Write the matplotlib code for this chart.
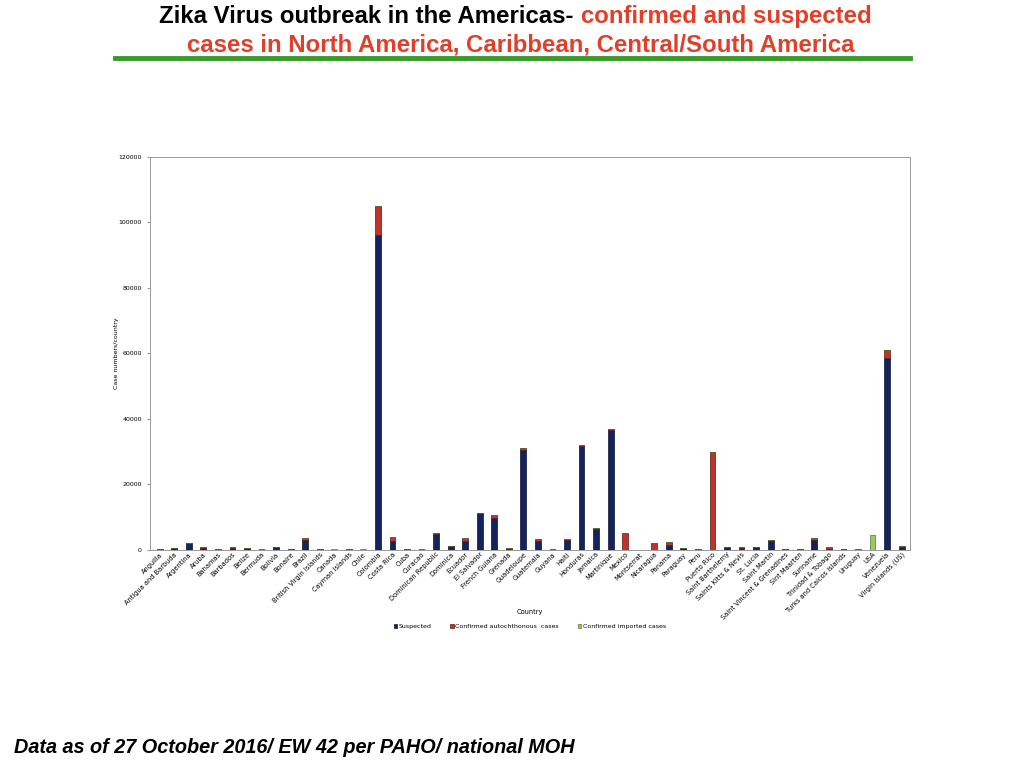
import numpy as np
import matplotlib.pyplot as plt
from matplotlib.lines import Line2D

countries = ['Anguilla', 'Antigua and Barbuda', 'Argentina', 'Aruba', 'Bahamas', 'Barbados',
             'Belize', 'Bermuda', 'Bolivia', 'Bonaire', 'Brazil', 'British Virgin Islands',
             'Canada', 'Cayman Islands', 'Chile', 'Colombia', 'Costa Rica', 'Cuba', 'Curacao',
             'Dominican Republic', 'Dominica', 'Ecuador', 'El Salvador', 'French Guiana',
             'Grenada', 'Guadeloupe', 'Guatemala', 'Guyana', 'Haiti', 'Honduras', 'Jamaica',
             'Martinique', 'Mexico', 'Montserrat', 'Nicaragua', 'Panama', 'Paraguay', 'Peru',
             'Puerto Rico', 'Saint Barthelemy', 'Saints Kitts & Nevis', 'St. Lucia',
             'Saint Martin', 'Saint Vincent & Grenadines', 'Sint Maarten', 'Suriname',
             'Trinidad & Tobago', 'Turks and Caicos Islands', 'Uruguay', 'USA', 'Venezuela',
             'Virgin Islands (US)']
suspected = [300, 600, 2000, 700, 200, 700, 600, 100, 800, 200, 3000, 300, 0, 300, 0,
             96000, 2800, 200, 100, 4800, 1200, 2800, 11200, 9600, 400, 30500, 2800, 100,
             3000, 31800, 6400, 36600, 0, 0, 0, 1500, 600, 300, 0, 900, 700, 900, 2700, 300,
             200, 3000, 300, 300, 100, 0, 58500, 800]
confirmed = [50, 100, 100, 100, 50, 100, 100, 50, 150, 50, 500, 50, 0, 100, 0,
             8800, 1200, 100, 300, 300, 100, 800, 200, 1000, 200, 500, 400, 50,
             200, 200, 200, 200, 5300, 0, 2000, 800, 100, 100, 30000, 100, 100, 100, 200, 50,
             50, 600, 600, 50, 50, 0, 2500, 500]
imported = [0] * len(countries)
imported[countries.index('Canada')] = 400
imported[countries.index('Chile')] = 200
imported[countries.index('USA')] = 4500

fig = plt.figure(figsize=(10.24, 7.68), dpi=100)
ax = fig.add_axes([0.146, 0.284, 0.743, 0.512])

x = np.arange(len(countries))
s = np.array(suspected)
c = np.array(confirmed)
w = 0.4
ax.bar(x, s, w, color='#14235c', edgecolor='#0a1233', linewidth=0.5, label='Suspected')
ax.bar(x, c, w, bottom=s, color='#c0332a', edgecolor='#5a1a14', linewidth=0.5,
       label='Confirmed autochthonous  cases')
ax.bar(x, imported, w, bottom=s + c, color='#9cc86a', edgecolor='#4d7a2a', linewidth=0.5,
       label='Confirmed imported cases')

ax.set_xlim(-0.7, len(countries) - 0.4)
ax.set_ylim(0, 120000)
ax.set_yticks(range(0, 120001, 20000))
ax.tick_params(axis='y', labelsize=4.5, length=2, color='#999999')
ax.tick_params(axis='x', length=0, pad=1)
ax.set_xticks(x)
ax.set_xticklabels(countries, rotation=45, ha='right', rotation_mode='anchor', fontsize=4.8)
for sp in ax.spines.values():
    sp.set_color('#999999')
    sp.set_linewidth(0.7)
ax.set_ylabel('Case numbers/country', fontsize=4.5)
ax.yaxis.set_label_coords(-0.04, 0.5)
ax.set_xlabel('Country', fontsize=4.8)
ax.xaxis.set_label_coords(0.5, -0.15)
ax.legend(loc='upper center', bbox_to_anchor=(0.5, -0.175), ncol=3, frameon=False,
          fontsize=4.5, handlelength=0.5, handleheight=0.5, columnspacing=3, handletextpad=0.3)

fig.text(0.567, 0.979, 'Zika Virus outbreak in the Americas- ', ha='right', va='center',
         fontsize=17.3, fontweight='bold', color='black', fontfamily='Liberation Sans')
fig.text(0.567, 0.979, 'confirmed and suspected', ha='left', va='center',
         fontsize=17.3, fontweight='bold', color='#e0402a', fontfamily='Liberation Sans')
fig.text(0.509, 0.941, 'cases in North America, Caribbean, Central/South America', ha='center',
         va='center', fontsize=17.3, fontweight='bold', color='#e0402a', fontfamily='Liberation Sans')
# green rule under the title
fig.add_artist(Line2D([0.112, 0.889], [0.924, 0.924], transform=fig.transFigure,
                      color='#3a9a2a', linewidth=3.5))

fig.text(0.014, 0.02, 'Data as of 27 October 2016/ EW 42 per PAHO/ national MOH',
         fontsize=14.3, fontweight='bold', fontstyle='italic', fontfamily='Liberation Sans')

fig.savefig('out.png', dpi=100)
